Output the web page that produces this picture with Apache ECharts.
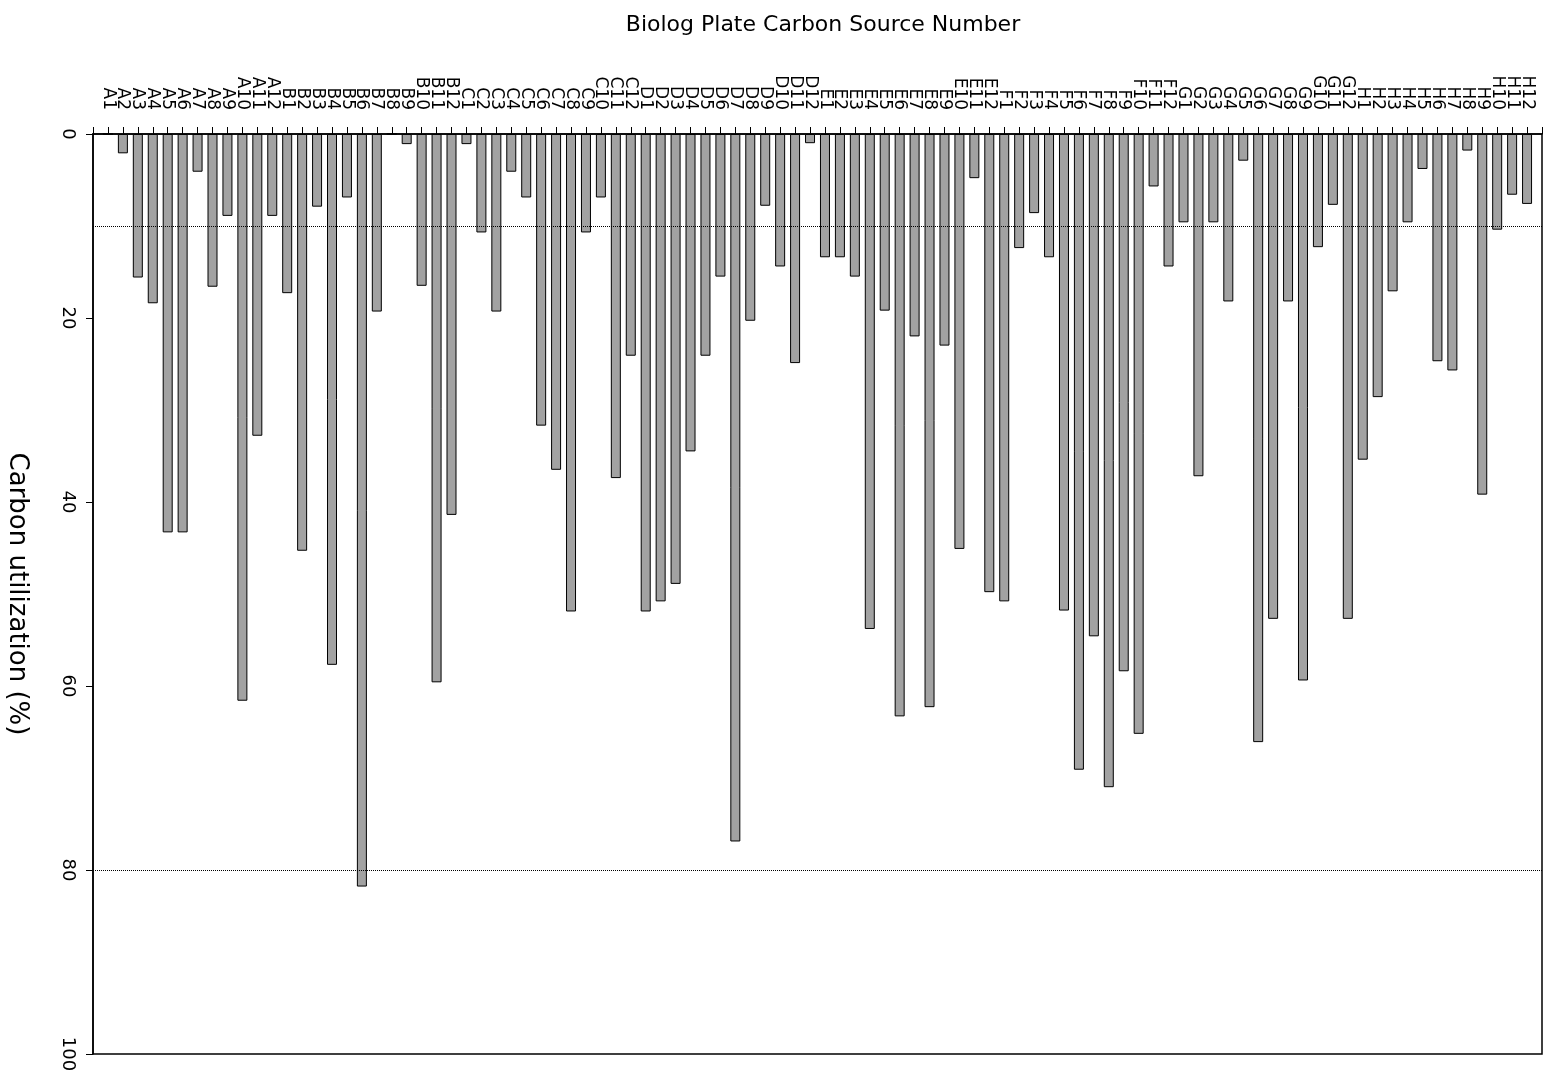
<!DOCTYPE html>
<html>
<head>
<meta charset="utf-8">
<script src="https://cdn.jsdelivr.net/npm/echarts@6/dist/echarts.min.js"></script>
<style>
html,body{margin:0;padding:0;background:#fff;}
#chart{width:1553px;height:1081px;}
</style>
</head>
<body>
<div id="chart"></div>
<script>
// Plate rows and columns (Biolog 96-well plate)
const plateRows = ['A','B','C','D','E','F','G','H'];
const plateCols = [1,2,3,4,5,6,7,8,9,10,11,12];

// Carbon utilization (%) per well
const rowA = [0, 2.1, 15.6, 18.4, 43.3, 43.3, 4.1, 16.6, 8.9, 61.6, 32.8, 8.9];
const rowB = [17.3, 45.3, 7.9, 57.7, 6.9, 81.8, 19.3, 0, 1.1, 16.5, 59.6, 41.4];
const rowC = [1.1, 10.7, 19.3, 4.1, 6.9, 31.7, 36.5, 51.9, 10.7, 6.9, 37.4, 24.1];
const rowD = [51.9, 50.8, 48.9, 34.5, 24.1, 15.5, 76.9, 20.3, 7.8, 14.4, 24.9, 1.0];
const rowE = [13.4, 13.4, 15.5, 53.8, 19.2, 63.3, 22.0, 62.3, 23.0, 45.1, 4.8, 49.8];
const rowF = [50.8, 12.4, 8.6, 13.4, 51.8, 69.1, 54.6, 71.0, 58.4, 65.2, 5.7, 14.4];
const rowG = [9.6, 37.2, 9.6, 18.2, 2.9, 66.1, 52.7, 18.2, 59.4, 12.3, 7.7, 52.7];
const rowH = [35.4, 28.6, 17.1, 9.6, 3.8, 24.7, 25.7, 1.8, 39.2, 10.4, 6.6, 7.6];

// Reference (threshold) lines
const thresholdLines = [10, 80];
const yTicks = [0, 20, 40, 60, 80, 100];

const wells = [];
plateRows.forEach(r => plateCols.forEach(c => wells.push(r + c)));
const values = [].concat(rowA, rowB, rowC, rowD, rowE, rowF, rowG, rowH);

// padded with one empty slot at each end
const xCats = [''].concat(wells, ['']);
const yData = ['-'].concat(values, ['-']);

const FONT = 'DejaVu Sans';
const chart = echarts.init(document.getElementById('chart'), null, {renderer: 'canvas'});
chart.setOption({
  backgroundColor: '#ffffff',
  animation: false,
  title: {
    text: 'Biolog Plate Carbon Source Number',
    left: 818,
    textAlign: 'center',
    top: 9,
    textStyle: {fontFamily: FONT, fontSize: 22, fontWeight: 'normal', color: '#000'}
  },
  grid: {
    left: 93, right: 11, top: 134, bottom: 27,
    containLabel: false,
    outerBoundsMode: 'none',
    show: true, borderColor: '#000', borderWidth: 1.5, backgroundColor: 'transparent'
  },
  xAxis: {
    type: 'category',
    position: 'top',
    data: xCats,
    boundaryGap: false,
    axisLine: {show: true, lineStyle: {color: '#000', width: 1.5}},
    axisTick: {show: true, interval: 0, length: 7, lineStyle: {color: '#000', width: 1}},
    axisLabel: {
      interval: 0, rotate: -90, margin: 24,
      fontFamily: FONT, fontSize: 17, color: '#000'
    },
    splitLine: {show: false}
  },
  yAxis: {
    type: 'value',
    inverse: true,
    min: yTicks[0], max: yTicks[yTicks.length - 1], interval: 20,
    name: 'Carbon utilization (%)',
    nameLocation: 'middle',
    nameRotate: -90,
    nameGap: 63,
    nameTextStyle: {fontFamily: FONT, fontSize: 26, color: '#000'},
    axisLine: {show: true, lineStyle: {color: '#000', width: 1.5}},
    axisTick: {show: true, length: 7, lineStyle: {color: '#000', width: 1}},
    axisLabel: {rotate: -90, margin: 16, fontFamily: FONT, fontSize: 18, color: '#000'},
    splitLine: {show: false}
  },
  series: [{
    type: 'bar',
    data: yData,
    barWidth: 10,
    itemStyle: {color: '#a2a2a2', borderColor: '#000', borderWidth: 1},
    markLine: {
      silent: true,
      symbol: 'none',
      label: {show: false},
      lineStyle: {color: '#000', type: 'dotted', width: 1},
      data: thresholdLines.map(v => ({yAxis: v}))
    }
  }]
});
</script>
</body>
</html>
